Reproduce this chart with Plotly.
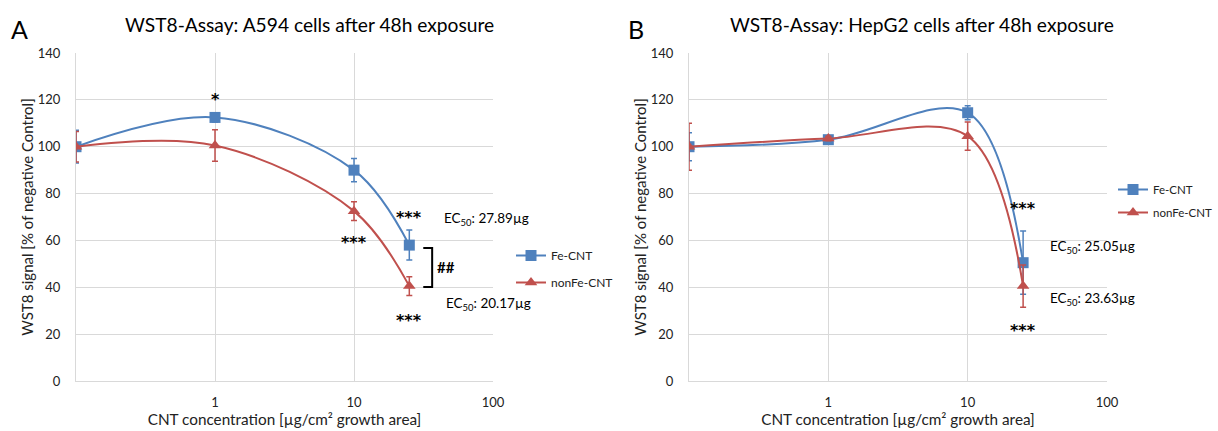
import numpy as np
import plotly.graph_objects as go

# ---------------- data ----------------
conc = [0.1, 1, 10, 25]           # control plotted at the left edge
a_fe = [100, 112.5, 90, 58]
a_fe_err = [7, 2, 5, 6.4]
a_nonfe = [100, 100.5, 72.5, 40.5]
a_nonfe_err = [6.5, 6.7, 4, 4]

b_fe = [100, 103, 114.5, 50.5]
b_fe_err = [6, 1.5, 3, 13.5]
b_nonfe = [100, 103.5, 104.5, 40.5]
b_nonfe_err = [10, 1, 6, 9]

y_ticks = [0, 20, 40, 60, 80, 100, 120, 140]
x_ticks = [1, 10, 100]
x_ticklabels = ["1", "10", "100"]

BLUE = "#4F81BD"
RED = "#C0504D"
FONT = "Lato"
STAR_FONT = "DejaVu Sans"
GRID = "#d9d9d9"

fig = go.Figure()


def add_series(x, y, err, name, color, symbol, xa, ya, legend, group):
    fig.add_trace(go.Scatter(
        x=x, y=y, name=name, mode="lines+markers",
        line=dict(color=color, width=2, shape="spline", smoothing=1),
        marker=dict(symbol=symbol, size=11, color=color),
        error_y=dict(type="data", array=err, color=color, thickness=1.5, width=3),
        xaxis=xa, yaxis=ya, legend=legend, legendgroup=group,
    ))


add_series(conc, a_fe, a_fe_err, "Fe-CNT", BLUE, "square", "x", "y", "legend", "a1")
add_series(conc, a_nonfe, a_nonfe_err, "nonFe-CNT", RED, "triangle-up", "x", "y", "legend", "a2")
add_series(conc, b_fe, b_fe_err, "Fe-CNT", BLUE, "square", "x2", "y2", "legend2", "b1")
add_series(conc, b_nonfe, b_nonfe_err, "nonFe-CNT", RED, "triangle-up", "x2", "y2", "legend2", "b2")

# significance bracket (panel A) between the two 25 µg points
br_x = [31.5, 36.5, 36.5, 31.5]
br_y = [a_fe[3] - 1.2, a_fe[3] - 1.2, a_nonfe[3] - 0.4, a_nonfe[3] - 0.4]
fig.add_trace(go.Scatter(x=br_x, y=br_y, mode="lines", line=dict(color="black", width=2),
                         showlegend=False, hoverinfo="skip", xaxis="x", yaxis="y"))

axis_common = dict(
    type="log", range=[-1, 2], tickvals=x_ticks, ticktext=x_ticklabels,
    showgrid=True, gridcolor=GRID, gridwidth=1, showline=True, linecolor=GRID,
    linewidth=1, mirror=False, zeroline=False, ticks="", ticklabelstandoff=9,
    automargin=False,
    tickfont=dict(family=FONT, size=13, color="#222"),
    title=dict(text="CNT concentration [µg/cm² growth area]", standoff=0,
               font=dict(family=FONT, size=15.3, color="#222")),
)
yaxis_common = dict(
    range=[0, 140], tickvals=y_ticks, showgrid=True, gridcolor=GRID, gridwidth=1,
    showline=True, linecolor=GRID, linewidth=1, zeroline=False, ticks="",
    ticklabelstandoff=12, automargin=False,
    tickfont=dict(family=FONT, size=13, color="#222"),
    title=dict(text="WST8 signal [% of negative Control]", standoff=0,
               font=dict(family=FONT, size=15, color="#222")),
)

fig.update_layout(
    width=1218, height=431, margin=dict(l=0, r=0, t=0, b=0, autoexpand=False),
    paper_bgcolor="white", plot_bgcolor="white",
    xaxis=dict(domain=[76 / 1218, 493 / 1218], anchor="y", **axis_common),
    yaxis=dict(domain=[1 - 381 / 431, 1 - 53 / 431], anchor="x", **yaxis_common),
    xaxis2=dict(domain=[689 / 1218, 1107 / 1218], anchor="y2", **axis_common),
    yaxis2=dict(domain=[1 - 381 / 431, 1 - 53 / 431], anchor="x2", **yaxis_common),
    legend=dict(x=511 / 1218, y=1 - 241 / 431, xanchor="left", yanchor="top",
                font=dict(family=FONT, size=12, color="#222"), tracegroupgap=8,
                bgcolor="rgba(0,0,0,0)", itemwidth=30),
    legend2=dict(x=1.0, y=1 - 175 / 431, xanchor="right", yanchor="top",
                 font=dict(family=FONT, size=11.5, color="#222"), tracegroupgap=4,
                 bgcolor="rgba(0,0,0,0)", itemwidth=30),
    showlegend=True,
)

ann = []
def txt(text, x, y, xref, yref, size=14, xanchor="center", yanchor="middle", family=FONT):
    ann.append(dict(text=text, x=x, y=y, xref=xref, yref=yref, showarrow=False,
                    xanchor=xanchor, yanchor=yanchor,
                    font=dict(family=family, size=size, color="black")))

# titles and panel letters
txt("WST8-Assay: A594 cells after 48h exposure", 309 / 1218, 1 - 24 / 431, "paper", "paper", size=19.2)
txt("WST8-Assay: HepG2 cells after 48h exposure", 922 / 1218, 1 - 24 / 431, "paper", "paper", size=19.2)
txt("A", 19 / 1218, 1 - 29 / 431, "paper", "paper", size=25)
txt("B", 636 / 1218, 1 - 29 / 431, "paper", "paper", size=25)

# panel A significance marks
lx = np.log10
txt("<b>*</b>", lx(1), 120, "x", "y", size=16, family=STAR_FONT)
txt("<b>***</b>", lx(25), 70, "x", "y", size=16, family=STAR_FONT)
txt("<b>***</b>", lx(10), 59, "x", "y", size=16, family=STAR_FONT)
txt("<b>***</b>", lx(25), 26, "x", "y", size=16, family=STAR_FONT)
txt("<b>##</b>", 1.585, 48.5, "x", "y", size=15, xanchor="left")
txt("EC<sub>50</sub>: 27.89µg", 1.63, 69, "x", "y", size=13.5, xanchor="left")
txt("EC<sub>50</sub>: 20.17µg", 1.645, 33, "x", "y", size=13.5, xanchor="left")

# panel B
txt("<b>***</b>", lx(25), 73.5, "x2", "y2", size=16, family=STAR_FONT)
txt("<b>***</b>", lx(25), 21.5, "x2", "y2", size=16, family=STAR_FONT)
txt("EC<sub>50</sub>: 25.05µg", 1.575, 57, "x2", "y2", size=13.5, xanchor="left")
txt("EC<sub>50</sub>: 23.63µg", 1.575, 35, "x2", "y2", size=13.5, xanchor="left")

fig.update_layout(annotations=ann)
fig.write_html("out.html")
